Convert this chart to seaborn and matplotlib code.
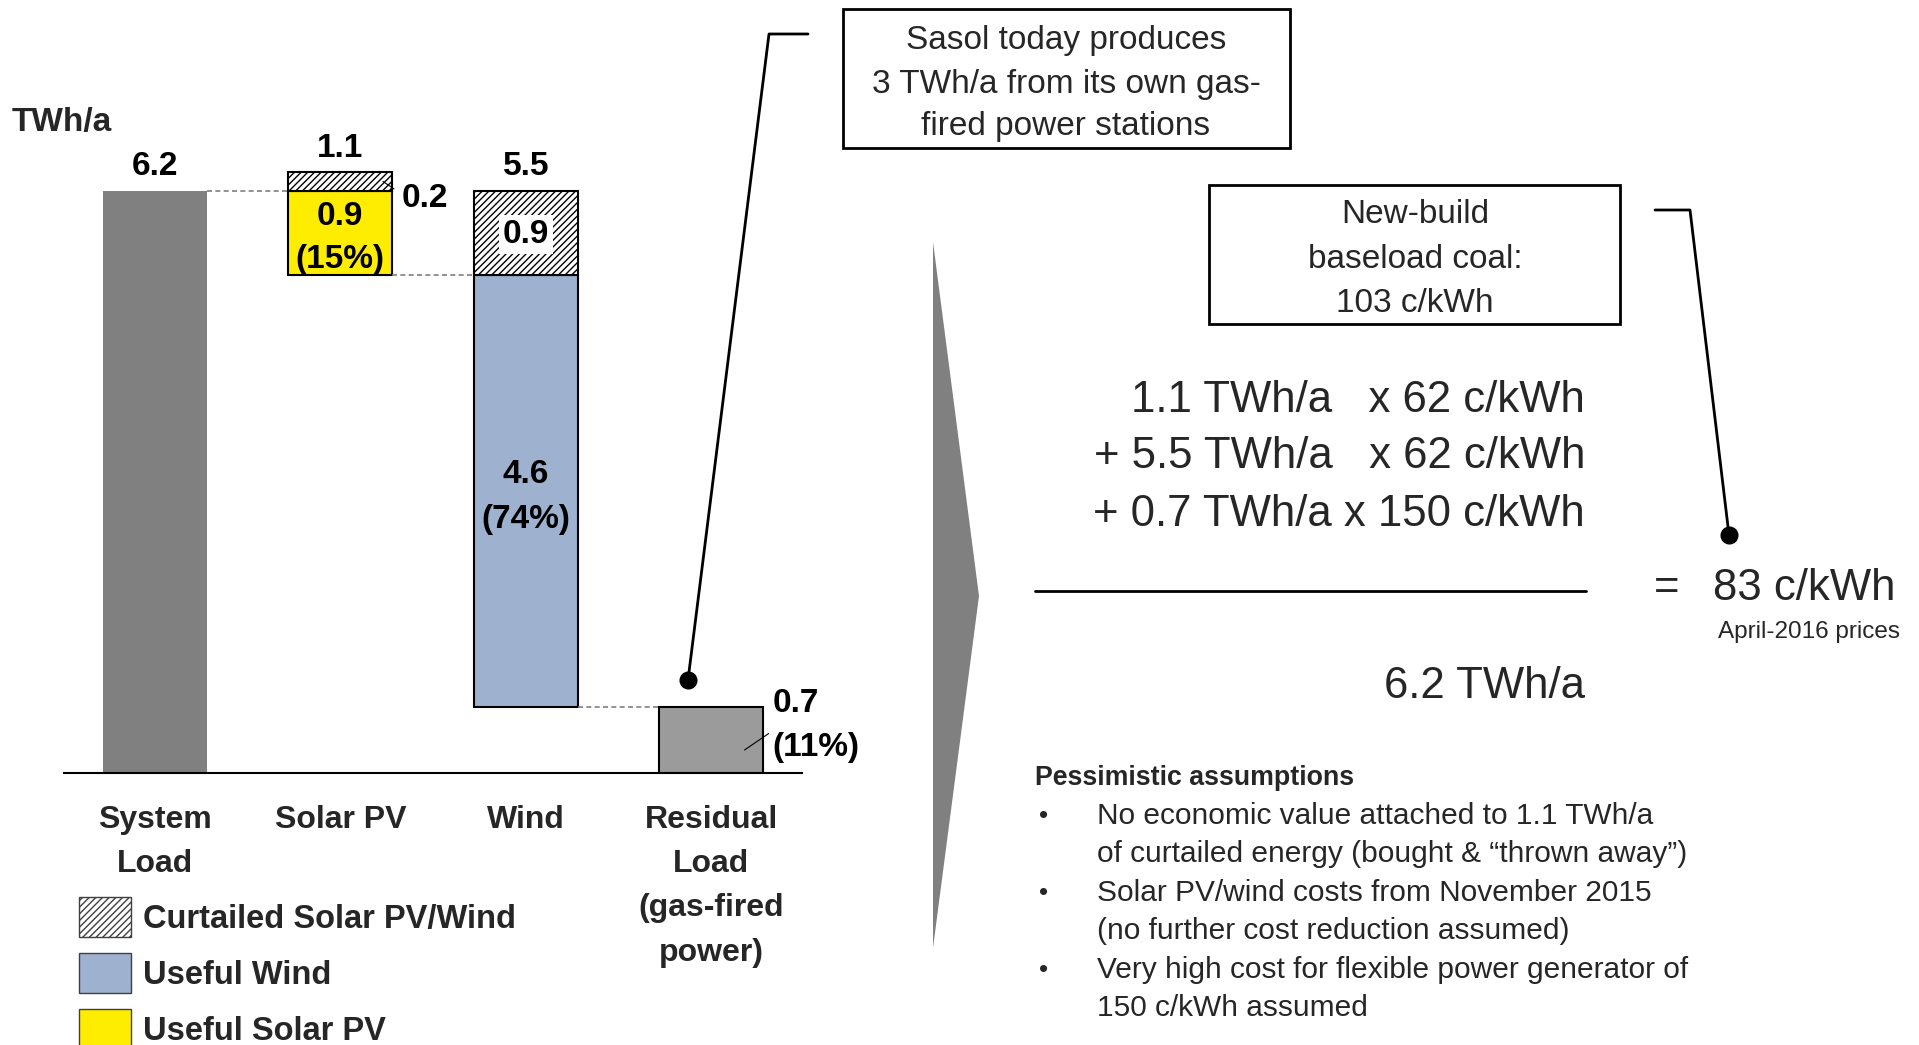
import matplotlib
matplotlib.use("Agg")
import matplotlib.pyplot as plt
import seaborn as sns
from matplotlib.patches import Rectangle, Polygon, Patch
from matplotlib.lines import Line2D

# ---------------- data ----------------
categories = ["System\nLoad", "Solar PV", "Wind", "Residual\nLoad\n(gas-fired\npower)"]
system_load = 6.2
solar_useful = 0.9
solar_curtailed = 0.2
wind_useful = 4.6
wind_curtailed = 0.9
residual_load = 0.7

formula_energy = [1.1, 5.5, 0.7]      # TWh/a
formula_cost = [62, 62, 150]          # c/kWh
coal_cost = 103
sasol_twh = 3

assumptions = [
    ["No economic value attached to 1.1 TWh/a",
     "of curtailed energy (bought & \u201cthrown away\u201d)"],
    ["Solar PV/wind costs from November 2015",
     "(no further cost reduction assumed)"],
    ["Very high cost for flexible power generator of",
     "150 c/kWh assumed"],
]
legend_labels = ["Curtailed Solar PV/Wind", "Useful Wind", "Useful Solar PV"]

# ---------------- style ----------------
sns.set_theme(style="white")
FONT = ["Liberation Sans", "DejaVu Sans"]
plt.rcParams["font.family"] = FONT
plt.rcParams["hatch.linewidth"] = 1.0

C_SYS = "#808080"
C_RES = "#9b9b9b"
C_WIND = "#9eb1cf"
C_SOLAR = "#ffed00"

W, H = 1919, 1045
fig = plt.figure(figsize=(W / 100, H / 100), dpi=100)


def fx(px):
    return px / W


def fy(py):
    return 1 - py / H


# ---------------- bar chart ----------------
px_per_unit = 93.9
ax = fig.add_axes([fx(64), fy(773), (802 - 64) / W, 7 * px_per_unit / H])
bw = 0.56

sns.barplot(x=[categories[0], categories[3]], y=[system_load, residual_load],
            hue=[categories[0], categories[3]], palette=[C_SYS, C_RES],
            order=categories, hue_order=[categories[0], categories[3]],
            width=bw, legend=False, ax=ax, saturation=1)
for p in ax.patches:
    if abs(p.get_height() - residual_load) < 1e-9:
        p.set_edgecolor("black")
        p.set_linewidth(1.5)
    else:
        p.set_linewidth(0)

# floating segments
solar_bottom = system_load - solar_useful
ax.bar(1, solar_useful, bottom=solar_bottom, width=bw, color=C_SOLAR,
       edgecolor="black", linewidth=1.5)
ax.bar(1, solar_curtailed, bottom=system_load, width=bw, color="white",
       edgecolor="black", linewidth=1.5, hatch="/////")
ax.bar(2, wind_useful, bottom=residual_load, width=bw, color=C_WIND,
       edgecolor="black", linewidth=1.5)
ax.bar(2, wind_curtailed, bottom=residual_load + wind_useful, width=bw,
       color="white", edgecolor="black", linewidth=1.5, hatch="/////")

# dashed connectors
dkw = dict(color="#7f7f7f", linestyle=(0, (3, 2)), linewidth=1.2, zorder=1)
ax.plot([0 + bw / 2, 1 - bw / 2], [system_load, system_load], **dkw)
ax.plot([1 + bw / 2, 2 - bw / 2], [solar_bottom, solar_bottom], **dkw)
ax.plot([2 + bw / 2, 3 - bw / 2], [residual_load, residual_load], **dkw)

ax.set_xlim(-0.49, 3.49)
ax.set_ylim(0, 7)
ax.set_yticks([])
ax.set_xlabel("")
ax.set_ylabel("")
for s in ["top", "right", "left"]:
    ax.spines[s].set_visible(False)
ax.spines["bottom"].set_color("black")
ax.spines["bottom"].set_linewidth(1.5)
ax.tick_params(axis="x", length=0, pad=23)
ax.set_xticks(range(len(categories)))
ax.set_xticklabels(categories, fontsize=23, fontweight="bold", linespacing=1.62,
                   va="top")

VFS = 24
bold = dict(fontsize=VFS, fontweight="bold", color="black")


def pct(v):
    return f"({round(100 * v / system_load)}%)"


solar_total = solar_useful + solar_curtailed
wind_total = wind_useful + wind_curtailed
ax.text(0, system_load + 0.26, f"{system_load:.1f}", ha="center", va="center", **bold)
ax.text(1, system_load + solar_curtailed + 0.25, f"{solar_total:.1f}", ha="center", va="center", **bold)
ax.text(1.33, system_load - 0.08, f"{solar_curtailed:.1f}", ha="left", va="center", **bold)
ax.plot([1 + bw / 2 - 0.05, 1 + bw / 2 + 0.01], [system_load + 0.1, system_load + 0.02],
        color="black", linewidth=0.8)
ax.text(1, solar_bottom + solar_useful / 2 - 0.05, f"{solar_useful:.1f}\n{pct(solar_useful)}",
        ha="center", va="center", linespacing=1.52, **bold)
ax.text(2, residual_load + wind_useful + wind_curtailed + 0.26, f"{wind_total:.1f}",
        ha="center", va="center", **bold)
ax.text(2, residual_load + wind_useful + wind_curtailed / 2 - 0.02, f"{wind_curtailed:.1f}",
        ha="center", va="center",
        bbox=dict(facecolor="white", edgecolor="none", pad=3), **bold)
ax.text(2, residual_load + wind_useful / 2 - 0.06, f"{wind_useful:.1f}\n{pct(wind_useful)}",
        ha="center", va="center", linespacing=1.55, **bold)
ax.text(3.33, residual_load * 0.72, f"{residual_load:.1f}\n{pct(residual_load)}",
        ha="left", va="center", linespacing=1.56, **bold)
ax.plot([3 + bw / 2 - 0.1, 3 + bw / 2 + 0.03], [residual_load * 0.35, residual_load * 0.6],
        color="black", linewidth=0.8)

fig.text(fx(12), fy(122), "TWh/a", fontsize=24, fontweight="bold", ha="left", va="center")

# legend
handles = [Patch(facecolor="white", edgecolor="#404040", hatch="/////", linewidth=1),
           Patch(facecolor=C_WIND, edgecolor="#404040", linewidth=1),
           Patch(facecolor=C_SOLAR, edgecolor="#404040", linewidth=1)]
fig.legend(handles, legend_labels, loc="upper left", bbox_to_anchor=(fx(79), fy(897)),
           frameon=False, prop=dict(family=FONT, size=23.5, weight="bold"),
           handlelength=1.6, handleheight=1.51, handletextpad=0.37,
           labelspacing=0.49, borderpad=0, borderaxespad=0)

# ---------------- right side ----------------
# wedge arrow
fig.add_artist(Polygon([[fx(933), fy(242)], [fx(979), fy(596)], [fx(933), fy(948)]],
                       closed=True, facecolor="#808080", edgecolor="none",
                       transform=fig.transFigure))


def box(x0, y0, x1, y1, text, cx, cy, ls):
    fig.add_artist(Rectangle((fx(x0), fy(y1)), fx(x1) - fx(x0), fy(y0) - fy(y1),
                             transform=fig.transFigure, facecolor="white",
                             edgecolor="black", linewidth=2))
    fig.text(fx(cx), fy(cy), text, fontsize=24, ha="center", va="center",
             linespacing=ls)


box(843, 9, 1290, 148,
    f"Sasol today produces\n{sasol_twh} TWh/a from its own gas-\nfired power stations",
    1066, 84, 1.5)
box(1209, 185, 1620, 324, f"New-build\nbaseload coal:\n{coal_cost} c/kWh", 1415, 259, 1.56)


def leader(points, dot):
    xs = [fx(p[0]) for p in points]
    ys = [fy(p[1]) for p in points]
    fig.add_artist(Line2D(xs, ys, color="black", linewidth=2, transform=fig.transFigure))
    fig.add_artist(Line2D([fx(dot[0])], [fy(dot[1])], marker="o", markersize=12,
                          color="black", transform=fig.transFigure))


leader([(808, 34), (769, 34), (688, 680)], (688, 680))
leader([(1655, 210), (1690, 210), (1729, 535)], (1729, 535))

# formula
FFS = 31.5
lines = []
for i, (e, c) in enumerate(zip(formula_energy, formula_cost)):
    prefix = "" if i == 0 else "+ "
    gap = "   " if c < 100 else " "
    lines.append(f"{prefix}{e:.1f} TWh/a{gap}x {c} c/kWh")
for line, y in zip(lines, [400, 457, 515]):
    fig.text(fx(1585), fy(y), line, fontsize=FFS, ha="right", va="center")
fig.add_artist(Line2D([fx(1035), fx(1586)], [fy(591), fy(591)], color="black",
                      linewidth=2, transform=fig.transFigure))
avg_cost = sum(e * c for e, c in zip(formula_energy, formula_cost)) / system_load
fig.text(fx(1667), fy(589), "=", fontsize=FFS, ha="center", va="center")
fig.text(fx(1713), fy(589), f"{avg_cost:.0f} c/kWh", fontsize=FFS, ha="left", va="center")
fig.text(fx(1809), fy(632), "April-2016 prices", fontsize=17.5, ha="center", va="center")
fig.text(fx(1585), fy(687), f"{system_load:.1f} TWh/a", fontsize=FFS, ha="right", va="center")

# assumptions
fig.text(fx(1035), fy(778), "Pessimistic assumptions", fontsize=19.3, fontweight="bold",
         ha="left", va="center")
ys = [816, 854, 893, 931, 970, 1008]
k = 0
for item in assumptions:
    fig.text(fx(1044), fy(ys[k]), "\u2022", fontsize=19, ha="center", va="center")
    for ln in item:
        fig.text(fx(1097), fy(ys[k]), ln, fontsize=21.5, ha="left", va="center")
        k += 1

fig.savefig("out.png", dpi=100, facecolor="white")
